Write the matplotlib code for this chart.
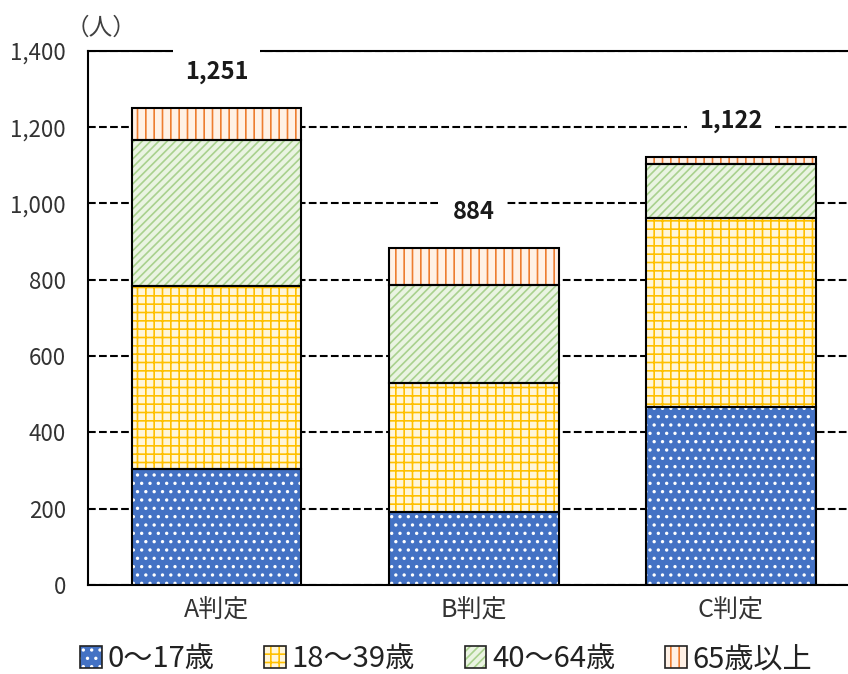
import numpy as np
import matplotlib.pyplot as plt
from matplotlib.patches import Patch
from matplotlib.legend_handler import HandlerTuple

plt.rcParams['font.family'] = ['Noto Sans CJK JP', 'DejaVu Sans']
plt.rcParams['hatch.linewidth'] = 1.2

categories = ['A判定', 'B判定', 'C判定']
age_groups = ['0～17歳', '18～39歳', '40～64歳', '65歳以上']
age_0_17 = [304, 191, 467]
age_18_39 = [480, 339, 495]
age_40_64 = [383, 257, 142]
age_65_up = [84, 97, 18]
totals = [1251, 884, 1122]
y_ticks = [0, 200, 400, 600, 800, 1000, 1200, 1400]

series = [age_0_17, age_18_39, age_40_64, age_65_up]
face_colors = ['#4472C4', '#FFF6DA', '#EAF4E2', '#FFF1E6']
hatch_colors = ['white', '#FFC000', '#A9D18E', '#ED7D31']
hatches = ['..', '++', '////', '||']

fig = plt.figure(figsize=(8.48, 6.74), dpi=100)
ax = fig.add_axes([0.1038, 0.132, 0.8962, 0.7925])

x = np.arange(len(categories))
width = 0.66
bottom = np.zeros(len(categories))
for vals, fc, hc, h in zip(series, face_colors, hatch_colors, hatches):
    # hatched fill first, then a plain black outline on top
    ax.bar(x, vals, width, bottom=bottom, color=fc, edgecolor=hc,
           hatch=h, linewidth=0, zorder=2)
    ax.bar(x, vals, width, bottom=bottom, facecolor='none',
           edgecolor='black', linewidth=1.5, zorder=3)
    bottom += np.array(vals)

for xi, t in zip(x, totals):
    ax.annotate(f'{t:,}', (xi, t), xytext=(0, 26), textcoords='offset points',
                ha='center', va='center', fontsize=17, fontweight='bold',
                color='#1a1a1a', zorder=5, annotation_clip=False,
                bbox=dict(boxstyle='square,pad=0.5', fc='white', ec='none'))

ax.set_xlim(-0.5, 2.455)
ax.set_ylim(0, 1400)
ax.set_yticks(y_ticks)
ax.set_yticklabels([f'{v:,}' for v in y_ticks])
ax.set_xticks(x)
ax.set_xticklabels(categories)
ax.tick_params(axis='y', length=0, pad=16, labelsize=16, labelcolor='#333333')
ax.tick_params(axis='x', length=0, pad=9, labelsize=18, labelcolor='#333333')

ax.set_axisbelow(True)
ax.yaxis.grid(True, linestyle='--', color='black', linewidth=1.5)
for side in ['left', 'top', 'bottom']:
    ax.spines[side].set_linewidth(1.5)
    ax.spines[side].set_color('black')
ax.spines['right'].set_visible(False)

fig.text(101 / 848, 1 - 28 / 674, '（人）', ha='center', va='center',
         fontsize=17, color='#404040')

handles = [(Patch(facecolor=fc, edgecolor=hc, hatch=h, linewidth=0),
            Patch(facecolor='none', edgecolor='#222222', linewidth=1.2))
           for fc, hc, h in zip(face_colors, hatch_colors, hatches)]
fig.legend(handles, age_groups, loc='center', bbox_to_anchor=(0.526, 0.022),
           ncol=4, frameon=False, fontsize=21, labelcolor='#222222',
           handlelength=0.75, handleheight=0.75, handletextpad=0.2,
           columnspacing=1.7, handler_map={tuple: HandlerTuple(ndivide=1)})

fig.savefig('out.png', dpi=100)
